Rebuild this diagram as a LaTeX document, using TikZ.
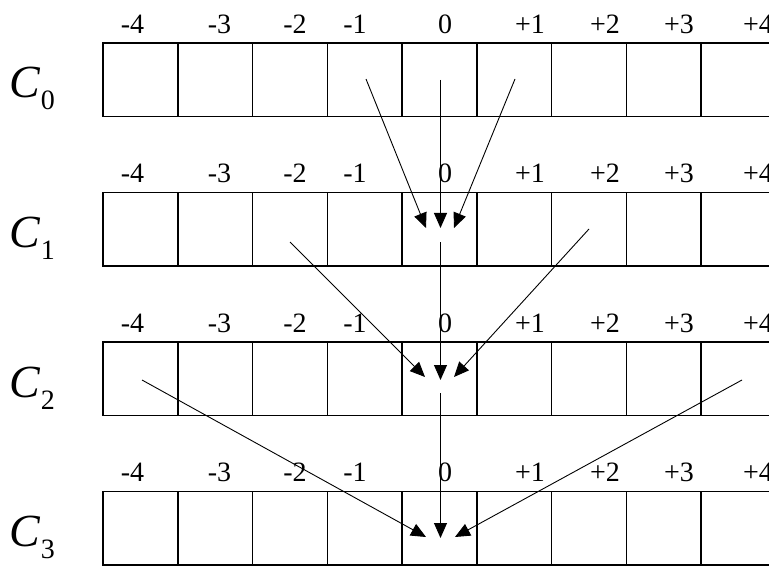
\documentclass[tikz,border=0pt]{standalone}
\usepackage{fontspec}
\setmainfont{Liberation Serif}
\usetikzlibrary{arrows.meta}
\begin{document}
\begin{tikzpicture}[x=1pt,y=-1pt,
  cell/.style={draw, line width=1.5pt, minimum width=74.75pt, minimum height=73.5pt, inner sep=0pt, outer sep=0pt, anchor=north west},
  idx/.style={font=\fontsize{28}{32}\selectfont, inner sep=0pt},
  rowlab/.style={anchor=base west, inner sep=0pt, font=\fontsize{46}{50}\selectfont\itshape},
  flow/.style={line width=0.9pt, -{Triangle[length=15pt,width=13pt]}}
]
\useasboundingbox (0,0) rectangle (769,567);
\clip (0,0) rectangle (769,567);
\fill[white] (0,0) rectangle (769,567);
% rows of cells
\foreach \r/\top in {0/43,1/192.5,2/342,3/491.5}{
  \foreach \i in {1,...,9}{
    \node[cell] (c\r-\i) at ({103+74.75*(\i-1)},\top) {};
  }
  \foreach \t/\x in {-4/132.5,-3/219.5,-2/295,-1/355,0/445,+1/530,+2/605,+3/679,+4/758}{
    \node[idx] (l\r\t) at (\x,\top-19) {\t};
  }
  \node[rowlab] (C\r) at (9,\top+55) {C\hspace{1pt}\raisebox{-12pt}{\upshape\fontsize{28}{32}\selectfont\r}};
}
% arrow end points
\coordinate (s01) at (366,79);
\coordinate (s02) at (440.5,80);
\coordinate (s03) at (515,79);
\coordinate (t11) at (426,228);
\coordinate (t12) at (440.5,228);
\coordinate (t13) at (454,228);
\coordinate (s11) at (290,242);
\coordinate (s12) at (440.5,242);
\coordinate (s13) at (589,229);
\coordinate (t21) at (425,377);
\coordinate (t22) at (440.5,380);
\coordinate (t23) at (454,377);
\coordinate (s21) at (142,380);
\coordinate (s22) at (440.5,393);
\coordinate (s23) at (742,380);
\coordinate (t31) at (426,537);
\coordinate (t32) at (440.5,538);
\coordinate (t33) at (455,537);
\draw[flow] (s01) -- (t11);
\draw[flow] (s02) -- (t12);
\draw[flow] (s03) -- (t13);
\draw[flow] (s11) -- (t21);
\draw[flow] (s12) -- (t22);
\draw[flow] (s13) -- (t23);
\draw[flow] (s21) -- (t31);
\draw[flow] (s22) -- (t32);
\draw[flow] (s23) -- (t33);
\end{tikzpicture}
\end{document}
